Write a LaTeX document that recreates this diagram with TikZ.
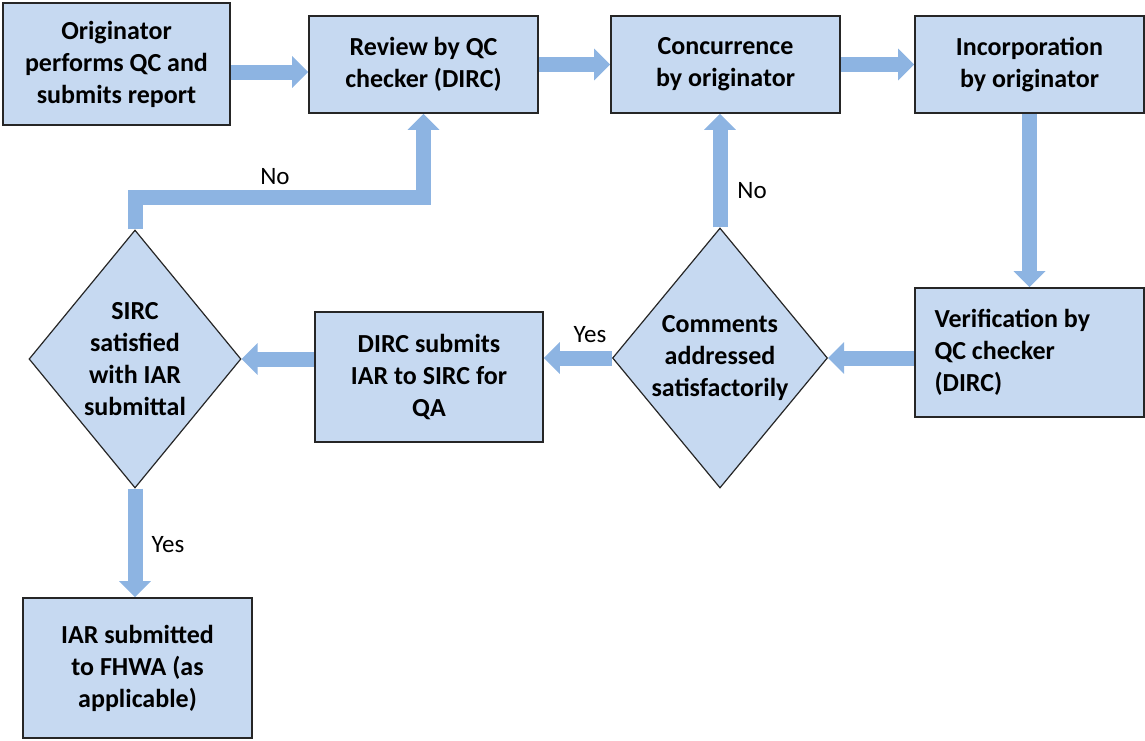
\documentclass[tikz,border=0pt]{standalone}
\usepackage{fontspec}
\setmainfont{Carlito}
\usetikzlibrary{shapes.geometric,arrows.meta,backgrounds}
\definecolor{boxfill}{HTML}{C6D9F1}
\definecolor{flowblue}{HTML}{8DB4E2}
\tikzset{
  stepbox/.style  = {shape=rectangle, draw=black!85, line width=1.6pt,
                     fill=boxfill, align=center, inner sep=0pt,
                     font=\bfseries\fontsize{26}{32}\selectfont},
  decision/.style = {stepbox, diamond, line width=1.2pt, inner sep=-20pt},
  flow/.style     = {draw=flowblue, line width=15pt,
                     -{Triangle[width=31pt,length=16pt]}},
  answer/.style   = {font=\fontsize{25}{30}\selectfont}
}

\begin{document}
\begin{tikzpicture}[x=1pt, y=-1pt]
  \useasboundingbox (0,0) rectangle (1145,740);
  % top row
  \node[stepbox, minimum width=227pt, minimum height=122pt] (orig) at (116.5,64)
    {Originator\\performs QC and\\submits report};
  \node[stepbox, minimum width=229pt, minimum height=97pt] (review) at (423.5,64.5)
    {Review by QC\\checker (DIRC)};
  \node[stepbox, minimum width=229pt, minimum height=97pt] (concur) at (725.5,64.5)
    {Concurrence\\by originator};
  \node[stepbox, minimum width=229pt, minimum height=97pt] (incorp) at (1029.5,64.5)
    {Incorporation\\by originator};
  % middle row
  \node[stepbox, align=flush left, text width=190pt,
        minimum width=229pt, minimum height=129pt] (verif) at (1029.5,352.5)
    {Verification by\\QC checker\\(DIRC)};
  \node[decision, minimum width=215pt, minimum height=260pt] (comm) at (720,358)
    {Comments\\addressed\\satisfactorily};
  \node[stepbox, minimum width=228pt, minimum height=130pt] (dirc) at (429,377)
    {DIRC submits\\IAR to SIRC for\\QA};
  \node[decision, minimum width=212pt, minimum height=258pt] (sirc) at (135,359)
    {SIRC\\satisfied\\with IAR\\submittal};
  % bottom
  \node[stepbox, minimum width=229pt, minimum height=140pt] (iar) at (137.5,668)
    {IAR submitted\\to FHWA (as\\applicable)};

  \coordinate (loop) at (0,197);
  \begin{scope}[on background layer]
    \draw[flow] (orig.east |- 0,72) -- (review.west |- 0,72);
    \draw[flow] (review.east) -- (concur.west);
    \draw[flow] (concur.east) -- (incorp.west);
    \draw[flow] (incorp.south) -- (verif.north);
    \draw[flow] (verif.west |- comm.east) -- (comm.east);
    \draw[flow] (comm.west) -- (dirc.east |- comm.west);
    \draw[flow] (dirc.west |- sirc.east) -- (sirc.east);
    \draw[flow] (comm.north) -- (comm.north |- concur.south);
    \draw[flow] (sirc.north) |- (review.south |- loop) -- (review.south);
    \draw[flow] (sirc.south) -- (sirc.south |- iar.north);
  \end{scope}

  % answers
  \node[answer] (no1)  at (275,177) {No};
  \node[answer] (no2)  at (752,191) {No};
  \node[answer] (yes1) at (590,335) {Yes};
  \node[answer] (yes2) at (168,545) {Yes};
\end{tikzpicture}
\end{document}
